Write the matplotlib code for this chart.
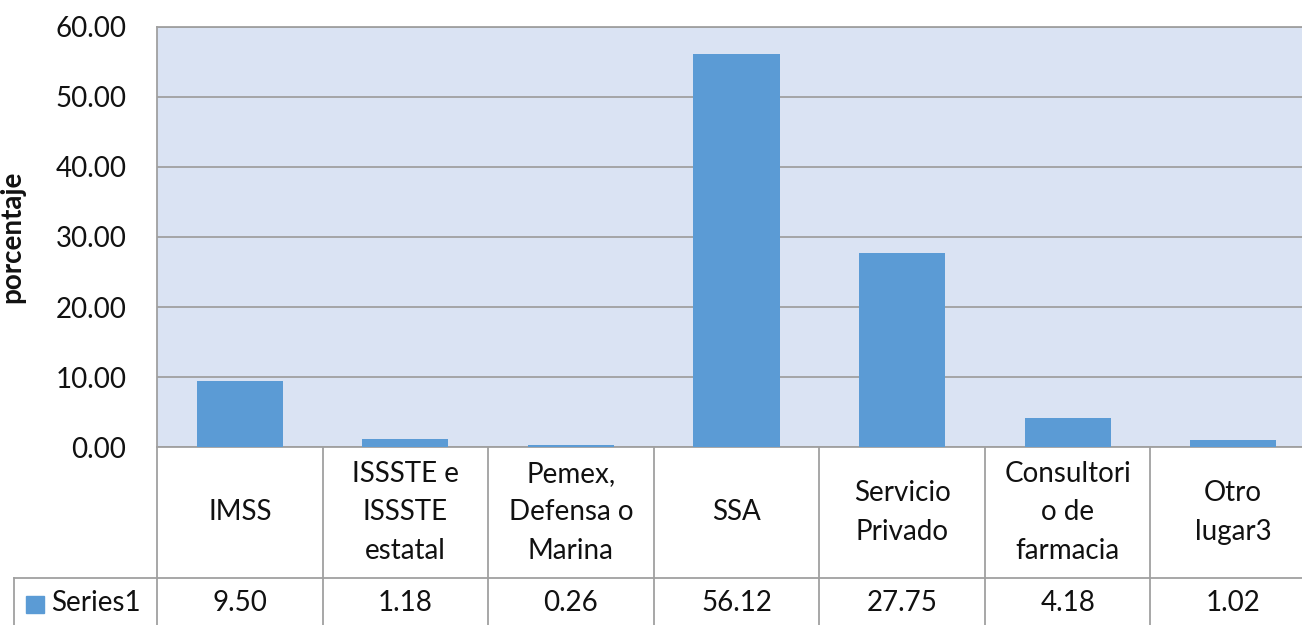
import matplotlib.pyplot as plt
from matplotlib.patches import Rectangle

# chart data
categories = ['IMSS', 'ISSSTE e\nISSSTE\nestatal', 'Pemex,\nDefensa o\nMarina', 'SSA',
              'Servicio\nPrivado', 'Consultori\no de\nfarmacia', 'Otro\nlugar3']
values = [9.50, 1.18, 0.26, 56.12, 27.75, 4.18, 1.02]
series_name = 'Series1'
yticks = [0, 10, 20, 30, 40, 50, 60]

plt.rcParams['font.family'] = ['Lato', 'DejaVu Sans']

W, H = 1302, 625
bar_color = '#5B9BD5'
bg_color = '#DAE3F3'
line_color = '#A0A0A0'
text_color = '#111111'
fs = 20

fig = plt.figure(figsize=(W / 100, H / 100), dpi=100)
# plot area in pixels: x 157..1316, y 27..447
ax = fig.add_axes([157 / W, (H - 447) / H, (1316 - 157) / W, 420 / H])
ax.set_facecolor(bg_color)

x = list(range(len(categories)))
ax.bar(x, values, width=0.52, color=bar_color, zorder=3)

ax.set_xlim(-0.5, len(categories) - 0.5)
ax.set_ylim(0, 60)
ax.set_yticks(yticks)
ax.set_yticklabels([f'{v:.2f}' for v in yticks], fontsize=fs, color=text_color)
ax.tick_params(axis='y', length=0, pad=22)
ax.set_xticks([])
ax.grid(axis='y', color=line_color, linewidth=1.3, zorder=1)
for s in ax.spines.values():
    s.set_color(line_color)
    s.set_linewidth(1.3)

ax.set_ylabel('porcentaje', fontsize=fs, fontweight='bold', color=text_color)
ax.yaxis.set_label_coords((25 - 157) / 1159, 0.5)

# data table below the plot (axes coordinates)
n = len(categories)
col_w = 1.0 / n
hdr_bottom = -(578 - 447) / 420
tbl_bottom = -0.5
legend_left = (14 - 157) / 1159
kw = dict(color=line_color, linewidth=1.3, clip_on=False, transform=ax.transAxes)

for i in range(n + 1):
    ax.plot([i * col_w, i * col_w], [0, tbl_bottom], **kw)
ax.plot([legend_left, 1], [hdr_bottom, hdr_bottom], **kw)
ax.plot([legend_left, legend_left], [hdr_bottom, tbl_bottom], **kw)

hdr_y = hdr_bottom / 2
val_y = -(603 - 447) / 420
for i, (c, v) in enumerate(zip(categories, values)):
    xc = (i + 0.5) * col_w
    ax.text(xc, hdr_y, c, transform=ax.transAxes, ha='center', va='center',
            fontsize=fs, color=text_color, linespacing=1.6)
    ax.text(xc, val_y, f'{v:.2f}', transform=ax.transAxes, ha='center', va='center',
            fontsize=fs, color=text_color)

# legend key
sq = Rectangle(((26 - 157) / 1159, -(613 - 447) / 420), 18 / 1159, 17 / 420,
               transform=ax.transAxes, color=bar_color, clip_on=False)
ax.add_patch(sq)
ax.text((51 - 157) / 1159, val_y, series_name, transform=ax.transAxes,
        ha='left', va='center', fontsize=fs, color=text_color)

fig.savefig('out.png', dpi=100)
